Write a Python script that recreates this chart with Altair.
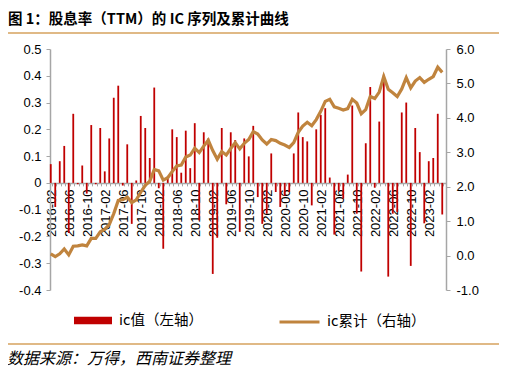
import altair as alt
import pandas as pd

# ---------------- data ----------------
months = [p.strftime('%Y-%m') for p in pd.period_range('2016-02', '2023-05', freq='M')]

ic_values = [
    0.070, -0.090, 0.081, 0.138, -0.187, 0.258, -0.005, 0.065, -0.040, 0.216,
    -0.005, 0.205, 0.043, 0.166, 0.318, 0.363, -0.010, 0.144, -0.153, 0.009,
    0.250, 0.205, 0.093, 0.356, -0.020, -0.246, 0.025, 0.200, 0.171, 0.038,
    0.195, 0.055, 0.223, -0.140, 0.189, 0.166, -0.340, -0.205, 0.205, -0.080,
    0.189, 0.160, -0.183, 0.166, 0.099, 0.213, -0.053, -0.153, -0.115, 0.110,
    -0.034, -0.090, -0.048, -0.034, 0.110, 0.263, 0.171, 0.155, -0.084, 0.200,
    0.254, 0.279, 0.020, -0.193, -0.030, -0.059, 0.031, 0.289, -0.115, -0.331,
    0.148, 0.358, -0.018, 0.229, 0.404, -0.350, -0.115, -0.109, 0.263, 0.300,
    -0.310, 0.205, 0.115, -0.151, 0.081, 0.093, 0.258, -0.118,
]

ic_cum = [
    0.05, -0.03, 0.05, 0.19, 0.02, 0.27, 0.28, 0.31, 0.28, 0.50,
    0.50, 0.69, 0.76, 0.90, 1.22, 1.60, 1.62, 1.70, 1.54, 1.62,
    1.84, 2.04, 2.16, 2.50, 2.46, 2.19, 2.26, 2.44, 2.60, 2.63,
    2.86, 2.92, 3.12, 2.99, 3.18, 3.35, 3.05, 2.80, 3.02, 2.92,
    3.11, 3.28, 3.10, 3.26, 3.37, 3.60, 3.53, 3.36, 3.24, 3.37,
    3.34, 3.26, 3.21, 3.14, 3.28, 3.58, 3.76, 3.87, 3.77, 3.95,
    4.19, 4.48, 4.54, 4.32, 4.28, 4.23, 4.27, 4.54, 4.43, 4.12,
    4.24, 4.62, 4.56, 4.75, 5.20, 4.83, 4.73, 4.62, 4.84, 5.17,
    4.87, 5.07, 5.17, 5.03, 5.12, 5.20, 5.47, 5.32,
]

left_ticks = [-0.4, -0.3, -0.2, -0.1, 0.0, 0.1, 0.2, 0.3, 0.4, 0.5]
right_ticks = [-1.0, 0.0, 1.0, 2.0, 3.0, 4.0, 5.0, 6.0]

title_text = '图 1：股息率（TTM）的 IC 序列及累计曲线'
bar_label = 'ic值（左轴）'
line_label = 'ic累计（右轴）'
source_text = '数据来源：万得，西南证券整理'

df = pd.DataFrame({'month': months, 'ic': ic_values, 'cum': ic_cum})

# ---------------- style ----------------
W, H = 396, 241
AX = '#A6A6A6'
NUM_FONT = 'Liberation Sans'
CJK = 'Noto Sans CJK SC'
BAR_C = '#C00000'
LINE_C = '#C0843E'
DECO_C = '#D6A25E'

x_enc = alt.X(
    'month:O', sort=months,
    scale=alt.Scale(paddingInner=0, paddingOuter=0),
    axis=alt.Axis(
        title=None, orient='bottom', offset=-H * 4 / 9,
        labelAngle=270,
        labelExpr="(toNumber(substring(datum.value, 5, 7)) - 2) % 4 == 0 ? datum.value : ''",
        labelOverlap=False, labelFont=NUM_FONT, labelFontSize=13, labelColor='black',
        labelPadding=3, tickSize=3, tickColor=AX, tickWidth=1,
        domainColor=AX, domainWidth=1.5, grid=False,
    ),
)

bars = alt.Chart(df).transform_calculate(s=f"'{bar_label}'").mark_bar(
    width=1.8, xOffset=-1.5
).encode(
    x=x_enc,
    y=alt.Y('ic:Q', scale=alt.Scale(domain=[-0.4, 0.5], nice=False),
            axis=alt.Axis(title=None, orient='left', values=left_ticks,
                          labelExpr="datum.value == 0 ? '0' : replace(format(datum.value, '.1f'), '\u2212', '-')",
                          labelFont=NUM_FONT, labelFontSize=13, labelColor='black',
                          tickSize=4, tickColor=AX, domainColor=AX, domainWidth=1.5,
                          labelPadding=5, grid=False)),
    color=alt.Color('s:N', scale=alt.Scale(range=[BAR_C]),
                    legend=alt.Legend(orient='none', legendX=24, legendY=252.5, title=None,
                                      symbolType='M-1,-0.2L1,-0.2L1,0.2L-1,0.2Z',
                                      symbolSize=1444, symbolStrokeWidth=0, symbolOpacity=1,
                                      labelOffset=7, padding=0,
                                      labelFont=CJK, labelFontSize=14.5, labelColor='black')),
)

line = alt.Chart(df).transform_calculate(s2=f"'{line_label}'").mark_line(
    strokeWidth=3.2, xOffset=-1.5
).encode(
    x=alt.X('month:O', sort=months),
    y=alt.Y('cum:Q', scale=alt.Scale(domain=[-1, 6], nice=False),
            axis=alt.Axis(title=None, orient='right', values=right_ticks,
                          labelExpr="replace(format(datum.value, '.1f'), '\u2212', '-')",
                          labelFont=NUM_FONT, labelFontSize=13, labelColor='black',
                          tickSize=4, tickColor=AX, domainColor=AX, domainWidth=1.5,
                          labelPadding=6, grid=False)),
    color=alt.Color('s2:N', scale=alt.Scale(range=[LINE_C]),
                    legend=alt.Legend(orient='none', legendX=228, legendY=251.5, title=None,
                                      symbolType='stroke', symbolSize=1600, symbolStrokeWidth=3,
                                      labelOffset=6, padding=0,
                                      labelFont=CJK, labelFontSize=14.5, labelColor='black')),
)

one = pd.DataFrame({'t': [0]})

title = alt.Chart(one).mark_text(
    text=title_text, font=CJK, fontSize=14.5, fontWeight='bold', align='left',
    baseline='middle', color='black'
).encode(x=alt.value(-42), y=alt.value(-29))

top_rule = alt.Chart(one).mark_rule(color=DECO_C, strokeWidth=1.5).encode(
    x=alt.value(-45), x2=alt.value(449), y=alt.value(-16))

bottom_rule = alt.Chart(one).mark_rule(color=DECO_C, strokeWidth=1.5).encode(
    x=alt.value(-45), x2=alt.value(449), y=alt.value(295))

source = alt.Chart(one).mark_text(
    text=source_text, font=CJK, fontSize=16, fontStyle='italic', align='left',
    baseline='middle', color='black'
).encode(x=alt.value(-43), y=alt.value(310))

chart = alt.layer(bars, line, title, top_rule, bottom_rule, source).resolve_scale(
    y='independent', color='independent'
).properties(
    width=W, height=H,
    autosize=alt.AutoSizeParams(type='none'),
    padding={'left': 42, 'top': 41, 'right': 53, 'bottom': 85},
).configure_view(stroke=None)

chart.save('out.html', embed_options={'renderer': 'svg', 'actions': False})
